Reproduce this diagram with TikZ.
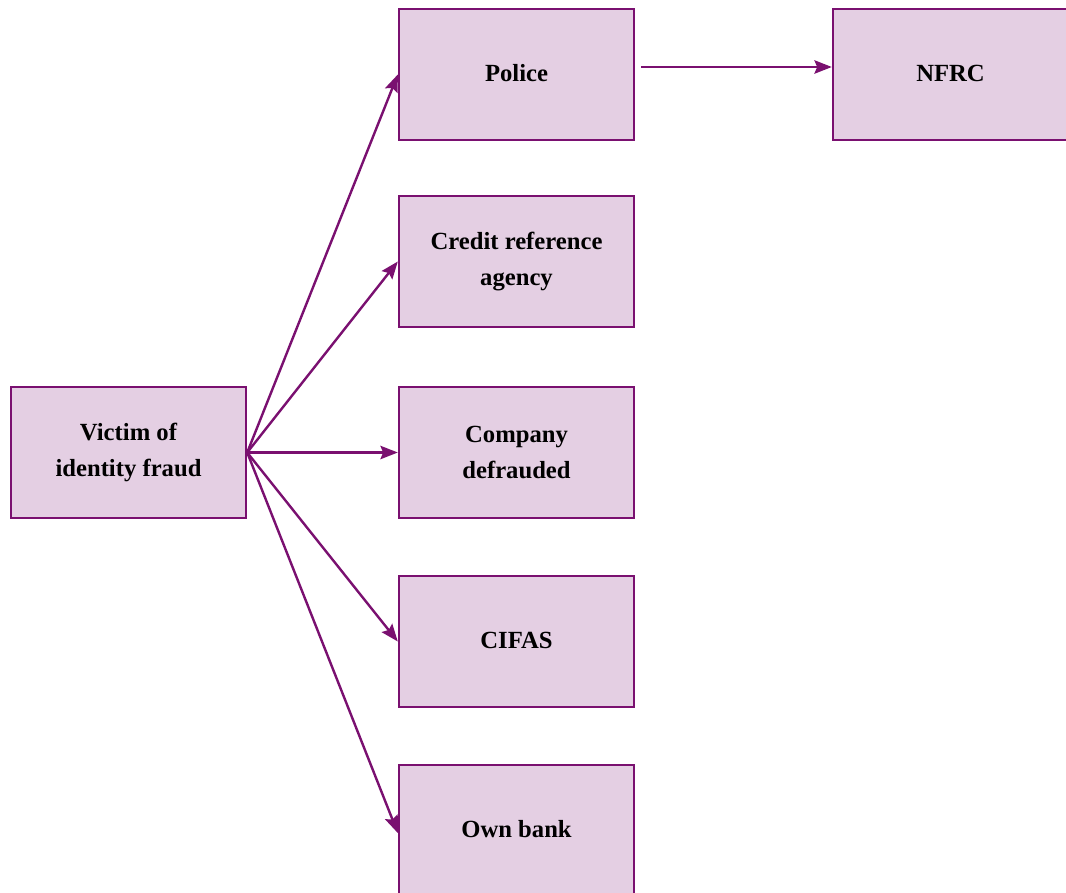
\documentclass[tikz,border=0pt]{standalone}
\usepackage{fontspec}
\setmainfont{Liberation Serif}
\usetikzlibrary{arrows.meta}
\definecolor{boxfill}{HTML}{E4CFE3}
\definecolor{boxline}{HTML}{7A1070}
\begin{document}
\begin{tikzpicture}[x=0.75pt,y=-0.75pt,
  orgbox/.style={draw=boxline, fill=boxfill, line width=1.8pt, minimum width=235*0.75pt, minimum height=131*0.75pt, align=center, font=\fontsize{18.5}{27}\selectfont\bfseries, inner sep=0pt},
  conn/.style={draw=boxline, line width=1.8pt, -{Stealth[length=13pt,width=10pt,inset=2pt]}}]
\useasboundingbox (0,0) rectangle (1066,892);
\node[orgbox] (victim) at (128.5,452.5) {Victim of\\identity fraud};
\node[orgbox] (police) at (516.5,74.5) {\strut Police};
\node[orgbox] (credit) at (516.5,261.5) {Credit reference\\agency};
\node[orgbox] (company) at (516.5,452.5) {Company\\defrauded};
\node[orgbox] (cifas) at (516.5,641.5) {\strut CIFAS};
\node[orgbox] (bank) at (516.5,830.5) {\strut Own bank};
\node[orgbox] (nfrc) at (950.5,74.5) {\strut NFRC};
\coordinate (v) at (victim.east);
\draw[conn] (v) -- (police.west);
\draw[conn] (v) -- (credit.west);
\draw[conn] (v) -- (company.west);
\draw[conn] (v) -- (cifas.west);
\draw[conn] (v) -- ([yshift=-2.5*0.75pt]bank.west);
\draw[conn] ([xshift=6*0.75pt,yshift=7.5*0.75pt]police.east) -- ([yshift=7.5*0.75pt]nfrc.west);
\end{tikzpicture}
\end{document}
